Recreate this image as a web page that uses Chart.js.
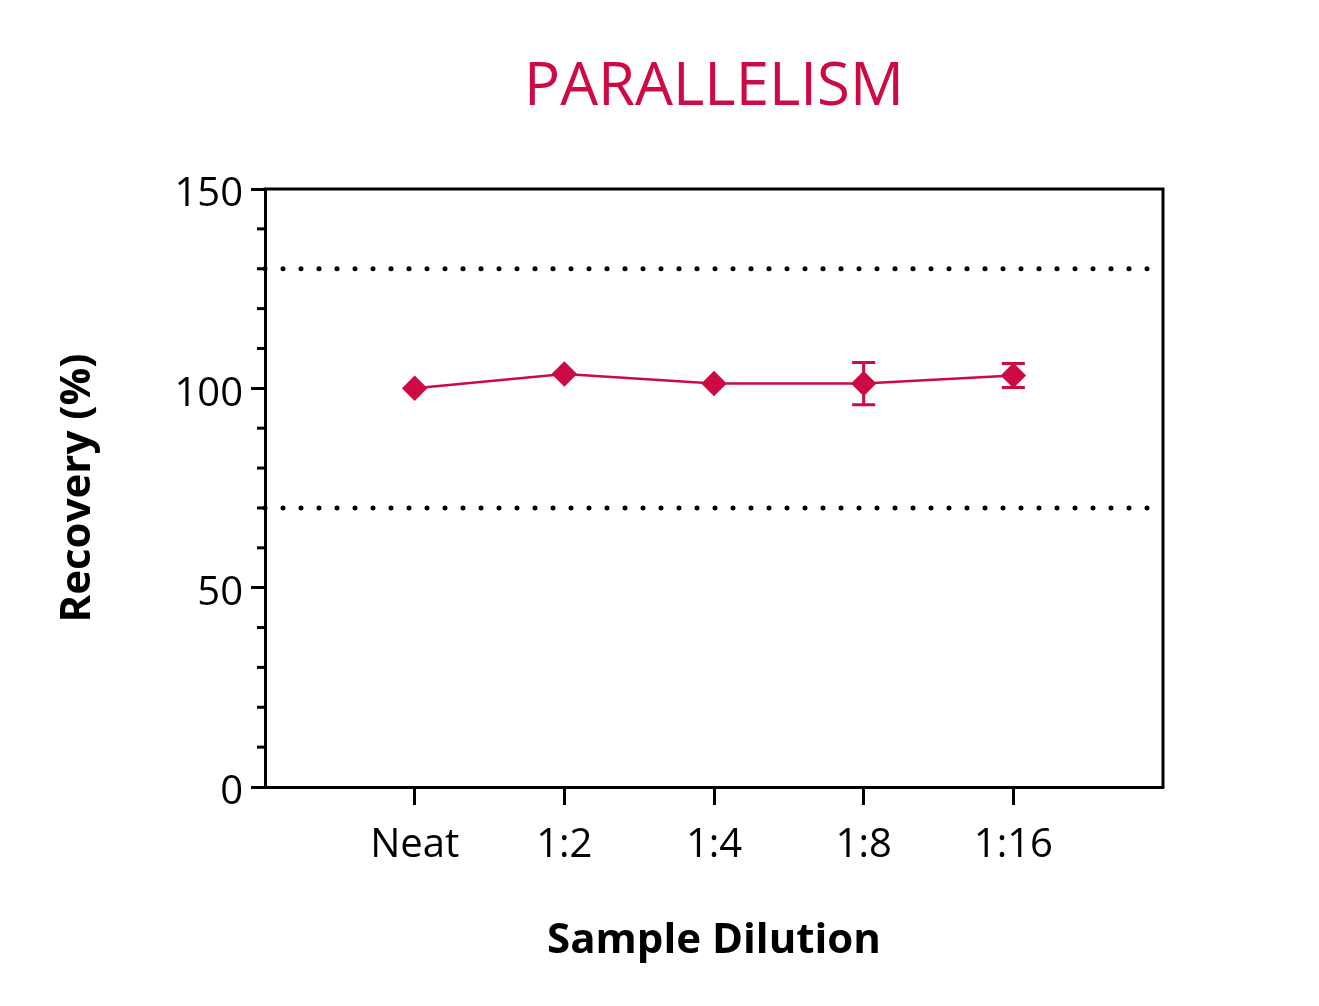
<!DOCTYPE html>
<html>
<head>
<meta charset="utf-8">
<script src="https://cdn.jsdelivr.net/npm/chart.js@4.4.1/dist/chart.umd.min.js"></script>
<style>
  html, body { margin: 0; padding: 0; background: #fff; }
  #wrap { width: 1319px; height: 1006px; }
</style>
</head>
<body>
<div id="wrap"><canvas id="chartParalelismo"></canvas></div>
<script>
// Dados
const diluicoes = ['Neat', '1:2', '1:4', '1:8', '1:16'];
const recuperacao = [100.0, 103.6, 101.2, 101.2, 103.2];
const erro = [0, 0, 0, 5.3, 3.0];
const limites = [70, 130];
const yTicks = [0, 50, 100, 150];
const yMinor = [10, 20, 30, 40, 60, 70, 80, 90, 110, 120, 130, 140];

const vermelho = '#CC0B45';
const fonte = "'Open Sans', 'DejaVu Sans', sans-serif";

// ticks menores no eixo Y
const minorTicks = {
  id: 'minorTicks',
  afterDraw(chart) {
    const { ctx } = chart;
    const y = chart.scales.y;
    ctx.save();
    ctx.strokeStyle = '#000';
    ctx.lineWidth = 3;
    yMinor.forEach(v => {
      const py = y.getPixelForValue(v);
      ctx.beginPath();
      ctx.moveTo(y.right - 8, py);
      ctx.lineTo(y.right, py);
      ctx.stroke();
    });
    // topo e lado direito da caixa
    const a = chart.chartArea;
    ctx.beginPath();
    ctx.moveTo(a.left - 1.5, a.top);
    ctx.lineTo(a.right, a.top);
    ctx.lineTo(a.right, a.bottom + 1.5);
    ctx.stroke();
    ctx.restore();
  }
};

// barras de erro
const barrasErro = {
  id: 'barrasErro',
  afterDatasetsDraw(chart) {
    const { ctx } = chart;
    const x = chart.scales.x, y = chart.scales.y;
    ctx.save();
    ctx.strokeStyle = vermelho;
    ctx.lineWidth = 3;
    recuperacao.forEach((v, i) => {
      if (!erro[i]) return;
      const px = x.getPixelForValue(i);
      const top = y.getPixelForValue(v + erro[i]);
      const bot = y.getPixelForValue(v - erro[i]);
      ctx.beginPath();
      ctx.moveTo(px, top); ctx.lineTo(px, bot);
      ctx.moveTo(px - 11.5, top); ctx.lineTo(px + 11.5, top);
      ctx.moveTo(px - 11.5, bot); ctx.lineTo(px + 11.5, bot);
      ctx.stroke();
    });
    ctx.restore();
  }
};

const linhaLimite = v => ({
  type: 'line',
  data: [{ x: -1, y: v }, { x: 5, y: v }],
  borderColor: '#000',
  borderWidth: 5,
  borderDash: [0, 18],
  borderCapStyle: 'round',
  pointRadius: 0,
  fill: false,
  clip: false
});

new Chart(document.getElementById('chartParalelismo'), {
  type: 'line',
  data: {
    datasets: [
      linhaLimite(limites[0]),
      linhaLimite(limites[1]),
      {
        data: recuperacao.map((v, i) => ({ x: i, y: v })),
        borderColor: vermelho,
        backgroundColor: vermelho,
        borderWidth: 2.5,
        pointStyle: 'rectRot',
        pointRadius: 11,
        pointHoverRadius: 11,
        tension: 0,
        fill: false
      }
    ]
  },
  options: {
    responsive: true,
    maintainAspectRatio: false,
    animation: false,
    devicePixelRatio: 1,
    layout: { padding: { left: 0, right: 156, top: 0, bottom: 0 } },
    plugins: {
      legend: { display: false },
      tooltip: { enabled: false },
      title: {
        display: true,
        fullSize: false,
        text: 'PARALLELISM',
        color: vermelho,
        font: { family: fonte, size: 60, weight: 'normal', lineHeight: 1.2 },
        padding: { top: 52, bottom: 65 }
      }
    },
    scales: {
      x: {
        type: 'linear',
        min: -1,
        max: 5,
        afterBuildTicks: s => { s.ticks = diluicoes.map((d, i) => ({ value: i })); },
        afterFit: s => { s.height = 219; },
        ticks: {
          callback: v => diluicoes[v] ?? '',
          color: '#000',
          font: { family: fonte, size: 40 },
          padding: 17,
          maxRotation: 0
        },
        grid: { drawOnChartArea: false, drawTicks: true, tickLength: 18, tickWidth: 3, tickColor: '#000' },
        border: { display: true, color: '#000', width: 3 },
        title: {
          display: true,
          text: 'Sample Dilution',
          color: '#000',
          font: { family: fonte, size: 42, weight: 'bold', lineHeight: 1.2 },
          padding: { top: 0, bottom: 40 }
        }
      },
      y: {
        min: 0,
        max: 150,
        afterBuildTicks: s => { s.ticks = yTicks.map(v => ({ value: v })); },
        afterFit: s => { s.width = 265; },
        ticks: {
          color: '#000',
          font: { family: fonte, size: 40 },
          padding: 8,
          labelOffset: 6
        },
        grid: { drawOnChartArea: false, drawTicks: true, tickLength: 14, tickWidth: 3, tickColor: '#000' },
        border: { display: true, color: '#000', width: 3 },
        title: {
          display: true,
          text: 'Recovery (%)',
          color: '#000',
          font: { family: fonte, size: 42, weight: 'bold', lineHeight: 1.2 },
          padding: { top: 53, bottom: 0 }
        }
      }
    }
  },
  plugins: [minorTicks, barrasErro]
});
</script>
</body>
</html>
